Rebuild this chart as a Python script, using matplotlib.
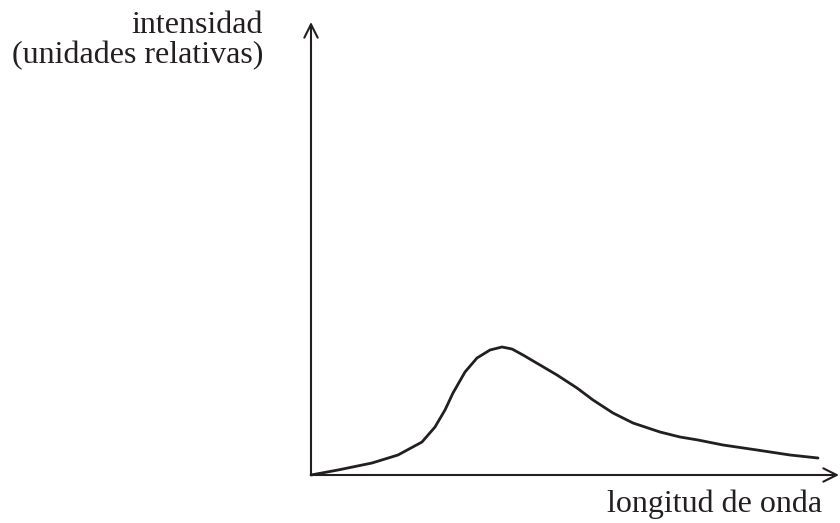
import matplotlib
matplotlib.use("Agg")
import matplotlib.pyplot as plt

# wavelength (arbitrary units) and intensity (relative units)
wavelength = [0.0, 2.7, 6.1, 8.7, 11.1, 12.4, 13.4, 14.2, 15.4, 16.6, 17.9, 19.1, 20.1,
              21.2, 22.9, 24.6, 26.6, 28.2, 30.2, 32.2, 34.9, 36.9, 38.7, 41.2, 44.6, 47.9, 50.7]
intensity = [0.0, 0.5, 1.2, 2.0, 3.3, 4.8, 6.5, 8.2, 10.3, 11.7, 12.5, 12.8, 12.6,
             12.0, 11.0, 10.0, 8.7, 7.5, 6.2, 5.2, 4.3, 3.8, 3.5, 3.0, 2.5, 2.0, 1.7]

x_label = "longitud de onda"
y_label_lines = ["intensidad", "(unidades relativas)"]

W, H = 840, 523
fig = plt.figure(figsize=(W / 100, H / 100), dpi=100)
x0, y0, x1, y1 = 311, 475, 839, 22
ax = fig.add_axes([x0 / W, (H - y0) / H, (x1 - x0) / W, (y0 - y1) / H])
ax.set_xlim(0, (x1 - x0) / 10)
ax.set_ylim(0, (y0 - y1) / 10)
ax.axis("off")

ax.plot(wavelength, intensity, color="#231f20", lw=2.0, solid_capstyle="round",
        solid_joinstyle="round", clip_on=False)

arrow = dict(arrowstyle="->", lw=1.5, color="#231f20", mutation_scale=24,
             shrinkA=0, shrinkB=0)
ax.annotate("", xy=(1, 0), xytext=(0, 0), xycoords="axes fraction", arrowprops=arrow)
ax.annotate("", xy=(0, 1), xytext=(0, 0), xycoords="axes fraction", arrowprops=arrow)

font = dict(family="Liberation Serif", size=23, color="#231f20")
fig.text(263 / W, 1 - 33 / H, y_label_lines[0], ha="right", va="baseline", **font)
fig.text(263 / W, 1 - 63 / H, y_label_lines[1], ha="right", va="baseline", **font)
fig.text(822 / W, 1 - 512 / H, x_label, ha="right", va="baseline", **font)

fig.savefig("out.png", dpi=100)
